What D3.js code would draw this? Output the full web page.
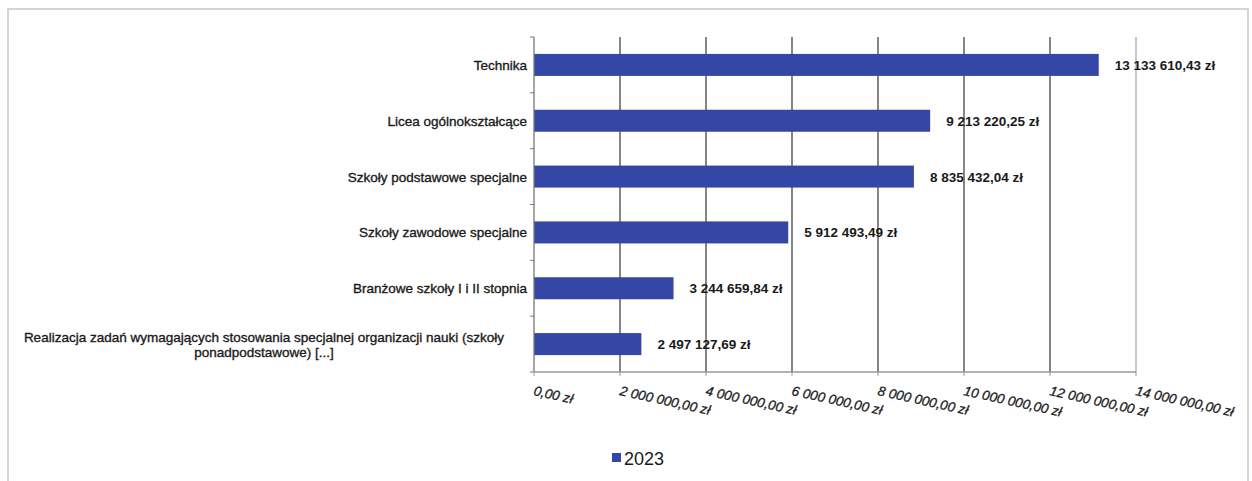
<!DOCTYPE html>
<html><head><meta charset="utf-8">
<script src="https://cdn.jsdelivr.net/npm/d3@7"></script>
<style>body{margin:0;background:#fff;}svg{display:block;font-family:"Liberation Sans",Arial,sans-serif;}</style>
</head><body>
<svg id="c" width="1252" height="481"></svg>
<script>
const categories = ["Technika","Licea ogólnokształcące","Szkoły podstawowe specjalne","Szkoły zawodowe specjalne","Branżowe szkoły I i II stopnia","Realizacja zadań wymagających stosowania specjalnej organizacji nauki (szkoły|ponadpodstawowe) [...]"];
const values2023 = [13133610.43, 9213220.25, 8835432.04, 5912493.49, 3244659.84, 2497127.69];
const tickValues = [0,2000000,4000000,6000000,8000000,10000000,12000000,14000000];
const seriesName = "2023";

(function(){
const svg = d3.select("#c");
const fmt = v => {
  const [i, d] = v.toFixed(2).split(".");
  return i.replace(/\B(?=(\d{3})+(?!\d))/g, " ") + "," + d + " zł";
};
// frame
svg.append("rect").attr("x",8).attr("y",9).attr("width",1240).attr("height",480)
  .attr("fill","none").attr("stroke","#d4d4d4").attr("stroke-width",2);

const pLeft = 534, pRight = 1136, pTop = 37, pBottom = 372;
const x = d3.scaleLinear().domain([0,14000000]).range([pLeft,pRight]);
const yb = d3.scaleBand().domain(categories).range([pTop,pBottom]);

// gridlines
svg.append("g").selectAll("line").data(tickValues.slice(1)).join("line")
  .attr("x1",d=>x(d)).attr("x2",d=>x(d)).attr("y1",pTop).attr("y2",pBottom)
  .attr("stroke",(d,i)=> i===tickValues.length-2 ? "#aaa" : "#444").attr("stroke-width",1.3);

// bars
svg.append("g").selectAll("rect").data(values2023).join("rect")
  .attr("x",x(0)).attr("y",(d,i)=>yb(categories[i])+yb.bandwidth()/2-11)
  .attr("width",d=>x(d)-x(0)).attr("height",22).attr("fill","#3447a6");

// value labels
svg.append("g").selectAll("text").data(values2023).join("text")
  .attr("x",d=>x(d)+16).attr("y",(d,i)=>yb(categories[i])+yb.bandwidth()/2+5)
  .attr("font-size",13.5).attr("font-weight","bold").attr("fill","#1a1a1a")
  .text(d=>fmt(d));

// left axis
const ya = svg.append("g");
ya.append("line").attr("x1",pLeft).attr("x2",pLeft).attr("y1",pTop).attr("y2",pBottom).attr("stroke","#777").attr("stroke-width",1.3);
ya.selectAll("line.t").data(d3.range(categories.length+1)).join("line").attr("class","t")
  .attr("x1",pLeft-4).attr("x2",pLeft).attr("y1",i=>pTop+i*yb.step()).attr("y2",i=>pTop+i*yb.step()).attr("stroke","#777");

// category labels
const lab = svg.append("g").attr("font-size",13.5).attr("fill","#1a1a1a").attr("stroke","#1a1a1a").attr("stroke-width",0.35);
categories.forEach((c,i)=>{
  const parts = c.split("|");
  const cy = yb(c)+yb.bandwidth()/2;
  if(parts.length===1){
    lab.append("text").attr("x",527).attr("text-anchor","end").attr("y",cy+5).text(parts[0]);
  } else {
    const cx = 264;
    lab.append("text").attr("text-anchor","middle").attr("x",cx).attr("y",cy-2).text(parts[0]);
    lab.append("text").attr("text-anchor","middle").attr("x",cx).attr("y",cy+13).text(parts[1]);
  }
});

// bottom axis
const xa = svg.append("g");
xa.append("line").attr("x1",pLeft).attr("x2",pRight).attr("y1",pBottom).attr("y2",pBottom).attr("stroke","#999").attr("stroke-width",1.3);
xa.selectAll("line.t").data(tickValues).join("line").attr("class","t")
  .attr("x1",d=>x(d)).attr("x2",d=>x(d)).attr("y1",pBottom).attr("y2",pBottom+4).attr("stroke","#999");
xa.selectAll("text").data(tickValues).join("text")
  .attr("transform",d=>`translate(${x(d)-1},${pBottom+23}) rotate(12.5)`)
  .attr("font-size",13.5).attr("font-style","italic").attr("fill","#1a1a1a").attr("stroke","#1a1a1a").attr("stroke-width",0.3)
  .text(d=>fmt(d));

// legend
svg.append("rect").attr("x",612).attr("y",453).attr("width",9).attr("height",9).attr("fill","#3447a6");
svg.append("text").attr("x",624).attr("y",465).attr("font-size",18).attr("fill","#1a1a1a").text(seriesName);
})();
</script>
</body></html>
